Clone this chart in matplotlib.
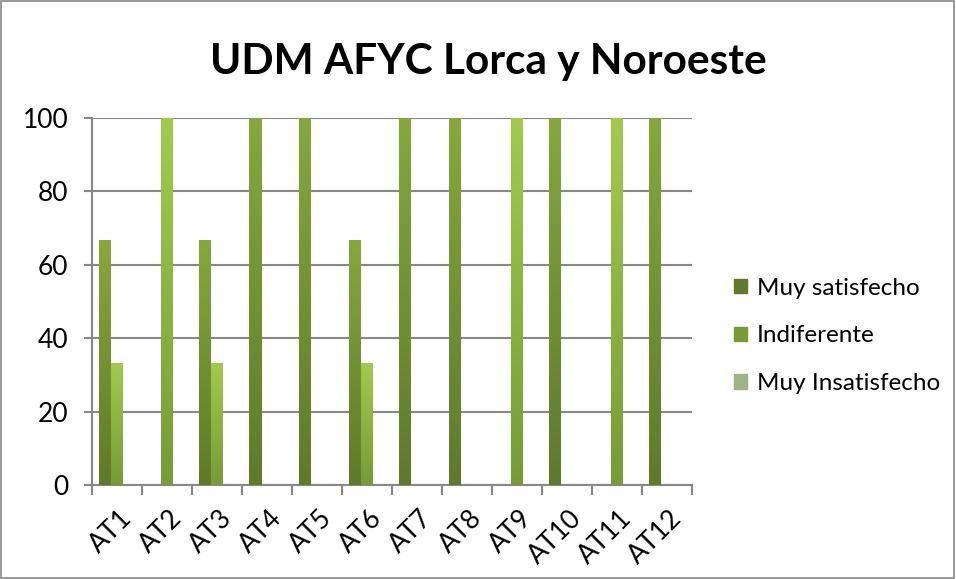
import numpy as np
import matplotlib
matplotlib.use("Agg")
import matplotlib.pyplot as plt
from matplotlib.patches import Rectangle

# ── Data ───────────────────────────────────────────────────────────────────
categories = ["AT1", "AT2", "AT3", "AT4", "AT5", "AT6",
              "AT7", "AT8", "AT9", "AT10", "AT11", "AT12"]
muy_satisfecho = [66.7, 0, 66.7, 100, 100, 66.7, 100, 100, 0, 100, 0, 100]
indiferente = [33.3, 100, 33.3, 0, 0, 33.3, 0, 0, 100, 0, 100, 0]
muy_insatisfecho = [0, 0, 0, 0, 0, 0, 0, 0, 0, 0, 0, 0]
series_names = ["Muy satisfecho", "Indiferente", "Muy Insatisfecho"]

# gradient (top, bottom) per series
grads = [("#86A83C", "#5E7A2A"), ("#A2CB4C", "#779B36"), ("#C4D9A8", "#9EB386")]

plt.rcParams["font.family"] = ["Lato", "DejaVu Sans"]

fig = plt.figure(figsize=(9.56, 5.79), dpi=100)
ax = fig.add_axes([92 / 956, 1 - 485 / 579, 600 / 956, 367 / 579])

x = np.arange(len(categories))
bw = 0.24
offsets = [-bw, 0.0, bw]


def grad_bar(ax, xs, vals, top, bottom):
    bars = ax.bar(xs, vals, bw, color=bottom, zorder=2, linewidth=0)
    cmap = matplotlib.colors.LinearSegmentedColormap.from_list("g", [bottom, top])
    grad = np.linspace(0, 1, 256).reshape(-1, 1)
    for b in bars:
        h = b.get_height()
        if h <= 0:
            continue
        im = ax.imshow(grad, cmap=cmap, aspect="auto", origin="lower",
                       extent=(b.get_x(), b.get_x() + b.get_width(), 0, h),
                       zorder=3)
        im.set_clip_path(b)
    return bars


handles = []
for vals, off, (top, bot), name in zip(
        [muy_satisfecho, indiferente, muy_insatisfecho], offsets, grads, series_names):
    grad_bar(ax, x + off, vals, top, bot)
    handles.append(Rectangle((0, 0), 1, 1, color=bot, label=name))

ax.set_xlim(-0.5, len(categories) - 0.5)
ax.set_ylim(0, 100)
ax.set_yticks([0, 20, 40, 60, 80, 100])
ax.yaxis.grid(True, color="#888888", linewidth=1.5, zorder=0)
ax.set_axisbelow(True)

for s in ["top", "right"]:
    ax.spines[s].set_visible(False)
for s in ["left", "bottom"]:
    ax.spines[s].set_color("#888888")
    ax.spines[s].set_linewidth(1.5)

# category boundary ticks
ax.set_xticks(np.arange(len(categories) + 1) - 0.5)
ax.set_xticklabels([])
ax.tick_params(axis="x", length=7, width=1.5, color="#888888", direction="out")
ax.tick_params(axis="y", length=6, width=1.5, color="#888888", direction="out",
               labelsize=19, pad=11)
ax.set_xticks(x, minor=True)
ax.set_xticklabels(categories, minor=True, rotation=45, ha="right",
                   rotation_mode="anchor", fontsize=19)
ax.tick_params(axis="x", which="minor", length=0, pad=15)
for lab in ax.get_xticklabels(minor=True):
    lab.set_transform(lab.get_transform() + matplotlib.transforms.ScaledTranslation(2 / 100, 0, fig.dpi_scale_trans))

fig.text(488 / 956, 1 - 62 / 579, "UDM AFYC Lorca y Noroeste", ha="center", va="center",
         fontsize=30.5, fontweight="bold")

fig.legend(handles=handles, loc="center left", bbox_to_anchor=(712 / 956, 1 - 336 / 579),
           frameon=False, fontsize=17.5, handlelength=0.55, handleheight=0.55,
           handletextpad=0.4, labelspacing=1.1)

fig.patches.append(Rectangle((0.001, 0.002), 0.997, 0.996, transform=fig.transFigure,
                             fill=False, edgecolor="#888888", linewidth=1.2))

fig.savefig("out.png", dpi=100)
